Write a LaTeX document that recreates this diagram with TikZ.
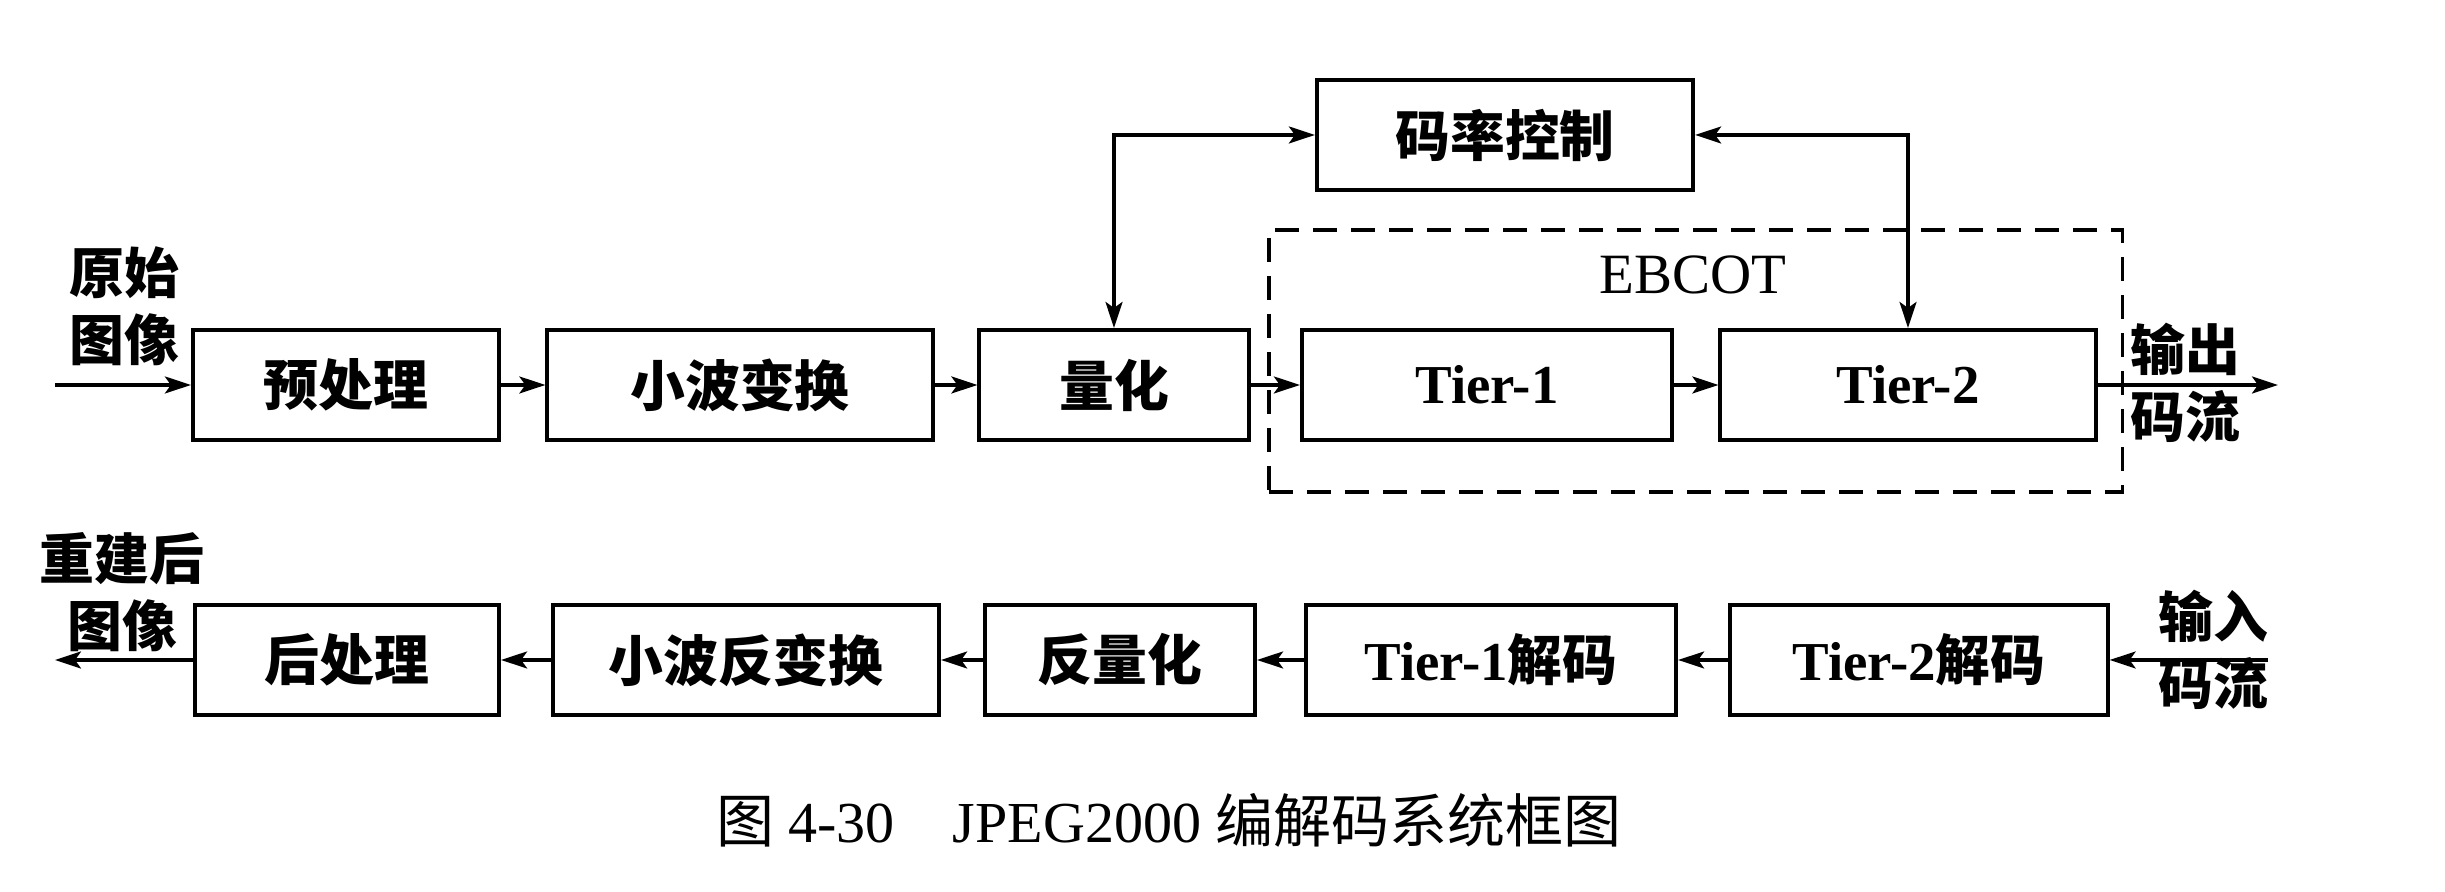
\documentclass[tikz,border=0pt]{standalone}
\usepackage{fontspec}
\setmainfont{Liberation Serif}
\newfontfamily\cjk{Noto Sans CJK SC}
\usetikzlibrary{arrows.meta}
\tikzset{
  box/.style={draw, line width=1.15pt, minimum height=1.1cm, inner sep=0pt,
    font=\cjk\bfseries\fontsize{15.6pt}{19pt}\selectfont},
  tip/.tip={Stealth[length=0.26cm,width=0.17cm,inset=0.06cm]},
  conn/.style={line width=0.9pt, -tip},
  biconn/.style={line width=0.9pt, tip-tip},
  lbl/.style={align=center, inner sep=0pt, font=\cjk\bfseries\fontsize{15.6pt}{19pt}\selectfont},
  dashbox/.style={draw, line width=1pt, dash pattern=on 0.24cm off 0.14cm, inner sep=0pt},
}
\begin{document}
\begin{tikzpicture}[x=0.01cm,y=-0.01cm]
\useasboundingbox (0,0) rectangle (2445,892);
% encoder row
\node[box, minimum width=3.06cm] (pre) at (346,385) {预处理};
\node[box, minimum width=3.85cm] (wt) at (740,385) {小波变换};
\node[box, minimum width=2.69cm] (q) at (1114,385) {量化};
\node[box, minimum width=3.76cm] (rc) at (1505,135) {码率控制};
\node[box, minimum width=3.70cm] (t1) at (1487,385) {\rmfamily Tier-1};
\node[box, minimum width=3.75cm] (t2) at (1908,385) {\rmfamily Tier-2};
\node[dashbox, minimum width=8.53cm, minimum height=2.62cm] (eb) at (1695.5,361) {};
\node[inner sep=0pt, font=\rmfamily\fontsize{16.2pt}{19pt}\selectfont] (ebl) at (1693,275) {EBCOT};
\coordinate (in) at (55,385);
\coordinate (out) at (2278,385);
\draw[conn] (in) -- (pre);
\draw[conn] (pre) -- (wt);
\draw[conn] (wt) -- (q);
\draw[conn] (q) -- (t1);
\draw[conn] (t1) -- (t2);
\draw[conn] (t2) -- (out);
\draw[biconn] (q.north) |- (rc.west);
\draw[biconn] (rc.east) -| (t2.north);
\node[lbl] (l1) at (124,306) {原始\\图像};
\node[lbl] (l2) at (2185,383) {输出\\码流};
% decoder row
\node[box, minimum width=3.04cm] (post) at (347,660) {后处理};
\node[box, minimum width=3.86cm] (iwt) at (746,660) {小波反变换};
\node[box, minimum width=2.70cm] (iq) at (1120,660) {反量化};
\node[box, minimum width=3.70cm] (d1) at (1491,660) {{\rmfamily Tier-1}解码};
\node[box, minimum width=3.77cm] (d2) at (1919,660) {{\rmfamily Tier-2}解码};
\coordinate (in2) at (2268,660);
\coordinate (out2) at (55,660);
\draw[conn] (in2) -- (d2);
\draw[conn] (d2) -- (d1);
\draw[conn] (d1) -- (iq);
\draw[conn] (iq) -- (iwt);
\draw[conn] (iwt) -- (post);
\draw[conn] (post) -- (out2);
\node[lbl] (l3) at (122,592) {重建后\\图像};
\node[lbl] (l4) at (2213,650) {输入\\码流};
% caption
\node[inner sep=0pt, font=\fontsize{16.5pt}{19pt}\selectfont] (cap) at (1169,820)
  {{\cjk 图} 4-30\quad JPEG2000 {\cjk 编解码系统框图}};
\end{tikzpicture}
\end{document}
